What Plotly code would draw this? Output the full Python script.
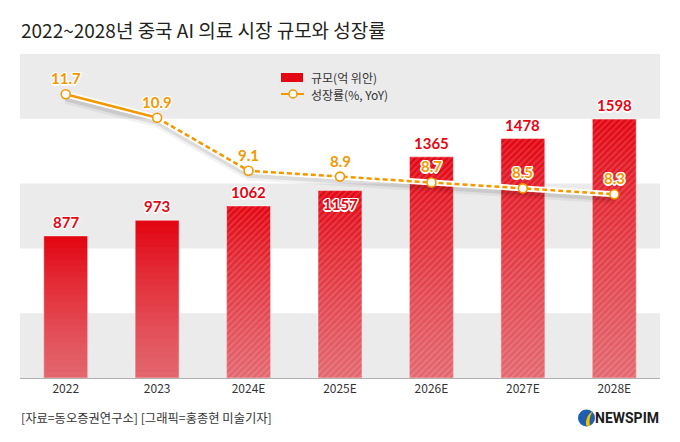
import plotly.graph_objects as go

# ---------------- data ----------------
years = ["2022", "2023", "2024E", "2025E", "2026E", "2027E", "2028E"]
market_size = [877, 973, 1062, 1157, 1365, 1478, 1598]          # 억 위안
growth_rate = [11.7, 10.9, 9.1, 8.9, 8.7, 8.5, 8.3]               # %, YoY
is_forecast = [False, False, True, True, True, True, True]
band_ranges = [(0, 400), (800, 1200), (1600, 2000)]

title_text = "2022~2028년 중국 AI 의료 시장 규모와 성장률"
legend_bar = "규모(억 위안)"
legend_line = "성장률(%, YoY)"
source_text = "[자료=동오증권연구소] [그래픽=홍종현 미술기자]"
logo_text = "NEWSPIM"

# ---------------- style ----------------
RED = "#e30613"
ORANGE = "#f39800"
BAND = "#ebebeb"
W, H = 680, 442
L, R, T, B = 20, 20, 54, 64
NUM_FONT = "Lato"
KR_FONT = "Noto Sans CJK KR"
HALO = ("1px 1px 0 #fff, -1px -1px 0 #fff, 1px -1px 0 #fff, -1px 1px 0 #fff, "
        "0 1.5px 0 #fff, 0 -1.5px 0 #fff, 1.5px 0 0 #fff, -1.5px 0 0 #fff")


def px_x(p):
    return (p - L) / (W - L - R)


def px_y(p):
    return (H - B - p) / (H - T - B)


fig = go.Figure()

# main bars
fig.add_trace(go.Bar(
    x=years, y=market_size, width=0.48,
    marker=dict(
        color=RED,
        line=dict(color="rgba(255,255,255,0.45)", width=1),
        pattern=dict(shape=["/" if f else "" for f in is_forecast],
                     fgcolor="rgba(255,255,255,0.30)", size=4.5, solidity=0.45),
    ),
    hoverinfo="skip",
))

# vertical light fade (gradient) over bars
N = 24
fx, fy = [], []
for i in range(1, N):
    for yr, v in zip(years, market_size):
        fx.append(yr)
        fy.append(v * i / N)
fig.add_trace(go.Bar(
    x=fx, y=fy, width=0.48,
    marker=dict(color="rgba(255,255,255,0.022)", line=dict(width=0)),
    hoverinfo="skip",
))

# line shadow
SH = 0.17
shadow_y = [g - SH for g in growth_rate]
fig.add_trace(go.Scatter(x=years, y=shadow_y, yaxis="y2", mode="lines",
                         line=dict(color="rgba(0,0,0,0.05)", width=9), hoverinfo="skip"))
fig.add_trace(go.Scatter(x=years, y=shadow_y, yaxis="y2", mode="lines",
                         line=dict(color="rgba(0,0,0,0.09)", width=4), hoverinfo="skip"))
# white outline under line
fig.add_trace(go.Scatter(x=years, y=growth_rate, yaxis="y2", mode="lines",
                         line=dict(color="#ffffff", width=6), hoverinfo="skip"))
# actual (solid) segment
n_act = sum(1 for f in is_forecast if not f)
fig.add_trace(go.Scatter(x=years[:n_act], y=growth_rate[:n_act], yaxis="y2", mode="lines",
                         line=dict(color=ORANGE, width=2.5), hoverinfo="skip"))
# forecast (dashed) segment
fig.add_trace(go.Scatter(x=years[n_act - 1:], y=growth_rate[n_act - 1:], yaxis="y2", mode="lines",
                         line=dict(color=ORANGE, width=2.5, dash="5px,3px"), hoverinfo="skip"))
# markers
fig.add_trace(go.Scatter(x=years, y=growth_rate, yaxis="y2", mode="markers",
                         marker=dict(size=9, color="#ffffff", line=dict(color=ORANGE, width=1.6)),
                         hoverinfo="skip"))

annotations = []
# bar value labels (x given as category index)
for i, (yr, v) in enumerate(zip(years, market_size)):
    inside = yr == "2025E"
    annotations.append(dict(
        x=i, y=v, xref="x", yref="y", text=f"<b>{v}</b>", showarrow=False,
        yshift=-13 if inside else 14,
        font=dict(family=NUM_FONT, size=15, color=RED, shadow=HALO),
    ))
# growth labels
for i, g in enumerate(growth_rate):
    annotations.append(dict(
        x=i, y=g, xref="x", yref="y2", text=f"<b>{g}</b>", showarrow=False,
        yshift=16,
        font=dict(family=NUM_FONT, size=15, color=ORANGE, shadow=HALO),
    ))

# title
annotations.append(dict(x=px_x(19), y=px_y(30), xref="paper", yref="paper", xanchor="left",
                        yanchor="middle", text=title_text, showarrow=False,
                        font=dict(family=KR_FONT, size=19, color="#231f20", weight=400)))
# legend texts
annotations.append(dict(x=px_x(309), y=px_y(77), xref="paper", yref="paper", xanchor="left",
                        yanchor="middle", text=legend_bar, showarrow=False,
                        font=dict(family=KR_FONT, size=12, color="#333333")))
annotations.append(dict(x=px_x(309), y=px_y(94), xref="paper", yref="paper", xanchor="left",
                        yanchor="middle", text=legend_line, showarrow=False,
                        font=dict(family=KR_FONT, size=12, color="#333333")))
# source
annotations.append(dict(x=px_x(19), y=px_y(418), xref="paper", yref="paper", xanchor="left",
                        yanchor="middle", text=source_text, showarrow=False,
                        font=dict(family=KR_FONT, size=12.3, color="#333333")))
# logo text
annotations.append(dict(x=px_x(661), y=px_y(418), xref="paper", yref="paper", xanchor="right",
                        yanchor="middle", text=f"<b>{logo_text}</b>", showarrow=False,
                        font=dict(family="Roboto", size=14, color="#1b1b1b")))

shapes = []
for y0, y1 in band_ranges:
    shapes.append(dict(type="rect", xref="paper", yref="y", x0=0, x1=1, y0=y0, y1=y1,
                       fillcolor=BAND, line=dict(width=0), layer="below"))
# legend symbols
shapes.append(dict(type="rect", xref="paper", yref="paper",
                   x0=px_x(281), x1=px_x(303), y0=px_y(82), y1=px_y(73),
                   fillcolor=RED, line=dict(width=0)))
shapes.append(dict(type="line", xref="paper", yref="paper",
                   x0=px_x(281), x1=px_x(304), y0=px_y(94), y1=px_y(94),
                   line=dict(color=ORANGE, width=2)))
shapes.append(dict(type="circle", xref="paper", yref="paper",
                   x0=px_x(289), x1=px_x(297), y0=px_y(98), y1=px_y(90),
                   fillcolor="#ffffff", line=dict(color=ORANGE, width=1.5)))
# logo icon
shapes.append(dict(type="circle", xref="paper", yref="paper",
                   x0=px_x(578), x1=px_x(595), y0=px_y(426.5), y1=px_y(409.5),
                   fillcolor="#1f5fae", line=dict(width=0)))
shapes.append(dict(type="path", xref="paper", yref="paper",
                   path=(f"M {px_x(586)} {px_y(425.5)} "
                         f"Q {px_x(585)} {px_y(416)} {px_x(593)} {px_y(411)} "
                         f"Q {px_x(588)} {px_y(418)} {px_x(590)} {px_y(426)} Z"),
                   fillcolor="#f5c400", line=dict(width=0)))

fig.update_layout(
    width=W, height=H,
    margin=dict(l=L, r=R, t=T, b=B, pad=0),
    paper_bgcolor="#ffffff", plot_bgcolor="#ffffff",
    barmode="overlay", showlegend=False,
    xaxis=dict(type="category", range=[-0.5, len(years) - 0.5], showgrid=False,
               showline=True, linecolor="#b0b0b0", linewidth=1, ticks="",
               tickfont=dict(family=KR_FONT, size=12, color="#333333"), zeroline=False),
    yaxis=dict(range=[0, 2000], visible=False, showgrid=False, zeroline=False),
    yaxis2=dict(range=[2.05, 13.07], overlaying="y", visible=False, showgrid=False,
                zeroline=False),
    annotations=annotations, shapes=shapes,
)

fig.write_html("out.html", config={"displayModeBar": False},
               post_script="document.body.style.margin='0';document.body.style.padding='0';")
